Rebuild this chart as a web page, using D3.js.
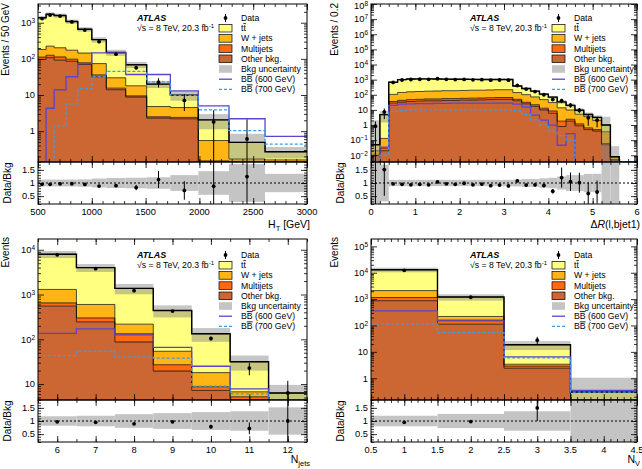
<!DOCTYPE html>
<html lang="en">
<head>
<meta charset="utf-8" />
<title>BB control distributions</title>
<script src="https://cdn.jsdelivr.net/npm/d3@7"></script>
<style>
  body { margin: 0; background: #fff; }
  svg { display: block; font-family: "Liberation Sans", Arial, sans-serif; }
</style>
</head>
<body>
<svg id="chart" width="642" height="469"></svg>
<script>
// ---------- H_T panel ----------
var htEdges = [500, 575, 650, 760, 870, 1000, 1135, 1315, 1510, 1730, 1990, 2275, 2610, 3000];
var htOther = [96, 108, 92, 86, 70, 32, 14, 8.8, 2.3, 2.2, 0.14, 0.02, 0.02];
var htMulti = [16, 18, 21, 12, 8, 4, 1.5, 0.7, 0.2, 0.2, 0.01, 0, 0];
var htWjets = [70, 99, 90, 76, 67, 38, 14.5, 8.5, 2.3, 2.1, 0.4, 0.15, 0.14];
var htTtbar = [1188, 1490, 1377, 906, 515, 266, 120, 51, 15.2, 5.4, 1.5, 0.32, 0.11];
var htData = [1300, 1630, 1530, 1050, 625, 300, 135, 57, 22.6, 7.1, 1.8, 0.61, 0];
var htErr = [6, 6, 6, 5, 4, 4, 6, 7, 6.5, 3.5, 2.0, 1.5, 0];
var htUnc = [0.13, 0.13, 0.13, 0.13, 0.14, 0.17, 0.19, 0.2, 0.22, 0.3, 0.45, 0.72, 0.35];
var htBB600 = [0, 4.3, 14, 32, 74, 147, 147, 37, 37, 13, 5, 2.2, 0.72];
var htBB700 = [0, 0, 1.4, 5.7, 15, 32, 45, 45, 23, 9.8, 3.9, 1.04, 0.44];

// ---------- dR(l,bjet1) panel ----------
var drEdges = [0, 0.2, 0.4, 0.6, 0.8, 1.0, 1.2, 1.4, 1.6, 1.8, 2.0, 2.2, 2.4, 2.6, 2.8, 3.0,
               3.2, 3.4, 3.6, 3.8, 4.0, 4.2, 4.4, 4.6, 4.8, 5.0, 5.2, 5.4, 5.6, 5.8, 6.0];
var drOther = [0.01, 0.02, 28, 33, 36, 38, 40, 40, 42, 42, 44, 45, 46, 48, 50, 50,
               40, 25, 17, 10, 6, 0.8, 1.8, 0.9, 0.5, 0.4, 0.05, 0.005, 0, 0];
var drMulti = [0, 0.01, 8, 10, 12, 12, 13, 13, 14, 14, 14, 15, 15, 16, 16, 16,
               10, 7, 5, 3, 2.5, 1.0, 0.6, 0.3, 0.15, 0.1, 0.01, 0, 0, 0];
var drWjets = [0.01, 0.1, 70, 100, 110, 115, 120, 125, 130, 130, 135, 140, 140, 145, 150, 150,
               90, 70, 50, 35, 22, 12, 7.5, 4, 3, 1.5, 0.3, 0.003, 0, 0];
var drTtbar = [0.03, 4.77, 564, 857, 942, 955, 947, 922, 894, 874, 857, 840, 829, 821, 814, 814,
               240, 158, 103, 62, 39.5, 20.2, 10.1, 4.3, 1.35, 1.2, 0.64, 0, 0, 0];
var drData = [0.83, 7.4, 650, 950, 1023, 1064, 1042, 1144, 1048, 1007, 1040, 967, 989, 927, 948, 917,
              410, 239, 163, 100, 48, 41, 21, 9.6, 3.0, 2.1, 0, 0, 0, 0];
var drErr = [0.9, 4.9, 25, 30, 32, 33, 32, 34, 32, 32, 32, 31, 31, 30, 31, 30,
             20, 15, 12, 9, 6, 13, 7, 3.6, 2.1, 1.4, 0, 0, 0, 0];
var drUnc = [40, 0.7, 0.12, 0.12, 0.12, 0.12, 0.12, 0.12, 0.12, 0.12, 0.12, 0.12, 0.12, 0.12, 0.12, 0.12,
             0.13, 0.15, 0.15, 0.18, 0.2, 0.25, 0.3, 0.3, 0.35, 0.35, 2.5, 4, 0, 0];
var drBB600 = [0, 0.035, 20, 24, 25, 26, 26, 27, 27, 28, 28, 28, 28, 28, 28, 28,
               24, 16, 4.5, 2.1, 1.0, 0.046, 0.27, 0, 0, 0, 0, 0, 0, 0];
var drBB700 = [0, 0.01, 8, 9, 10, 10, 10, 10, 10, 10, 10, 10, 10, 10, 10, 10,
               9, 5, 2.2, 1.0, 0.4, 0.2, 0.1, 0, 0, 0, 0, 0, 0, 0];

// ---------- N_jets panel ----------
var njEdges = [5.5, 6.5, 7.5, 8.5, 9.5, 10.5, 11.5, 12.5];
var njOther = [550, 245, 87, 19.5, 7.2, 4.0, 0.5];
var njMulti = [100, 55, 46, 7.5, 1.5, 1.2, 0.3];
var njWjets = [650, 300, 85, 27, 9.3, 1.5, 0.5];
var njTtbar = [6660, 3390, 1152, 386, 115, 24.9, 5.0];
var njData = [7720, 3790, 1220, 427, 104, 22.7, 6.3];
var njErr = [88, 62, 35, 21, 10, 7, 5.5];
var njUnc = [0.18, 0.2, 0.26, 0.3, 0.34, 0.37, 0.52];
var njBB600 = [135, 170, 125, 66, 25, 7.8, 0];
var njBB700 = [43, 54, 40, 38, 9, 6, 0];

// ---------- N_V panel ----------
var nvEdges = [0.5, 1.5, 2.5, 3.5, 4.5];
var nvOther = [870, 112, 2.4, 0.03];
var nvMulti = [280, 48, 0.5, 0.01];
var nvWjets = [950, 60, 0.5, 0.01];
var nvTtbar = [10900, 980, 15.2, 0.25];
var nvData = [12350, 1176, 27.9, 0];
var nvErr = [110, 34, 9.3, 0];
var nvUnc = [0.2, 0.27, 0.37, 2.5];
var nvBB600 = [360, 150, 6.5, 0.35];
var nvBB700 = [115, 54, 6, 0.3];

// colours
var cTtbar = "#ffff80", cWjets = "#ffb514", cMulti = "#ff6a0f", cOther = "#cc6633";
var cBB600 = "#5a44d0", cBB700 = "#3d9ce8";

var legendItems = [
  {type: "data", label: "Data"},
  {type: "box", color: cTtbar, label: "tt", bar: true},
  {type: "box", color: cWjets, label: "W + jets"},
  {type: "box", color: cMulti, label: "Multijets"},
  {type: "box", color: cOther, label: "Other bkg."},
  {type: "unc", label: "Bkg uncertainty"},
  {type: "line", color: cBB600, dash: null, label: "BB", bar: true, extra: " (600 GeV)"},
  {type: "line", color: cBB700, dash: "3,2", label: "BB", bar: true, extra: " (700 GeV)"}
];

var panels = [
  {qx: 0, qy: 0, x0: 38, x1: 307, top: 4, mid: 162, bot: 204, legDy: 14, titleDy: 24,
   yTitleX: 9, yTitleEnd: 3,
   edges: htEdges, other: htOther, multi: htMulti, wjets: htWjets, ttbar: htTtbar,
   data: htData, err: htErr, unc: htUnc, bb600: htBB600, bb700: htBB700,
   xDomain: [500, 3000], yDomain: [0.14, 3300],
   xTicks: [500, 1000, 1500, 2000, 2500, 3000], xMinor: d3.range(500, 3001, 100),
   xTitle: [["H", ""], ["T", "sub"], [" [GeV]", "up"]], yTitle: "Events / 50 GeV"},
  {qx: 321, qy: 0, x0: 371, x1: 637, top: 4, mid: 162, bot: 204, legDy: 14, titleDy: 24,
   yTitleX: 338, yTitleEnd: 3,
   edges: drEdges, other: drOther, multi: drMulti, wjets: drWjets, ttbar: drTtbar,
   data: drData, err: drErr, unc: drUnc, bb600: drBB600, bb700: drBB700,
   xDomain: [0, 6], yDomain: [0.0036, 1e8],
   xTicks: [0, 1, 2, 3, 4, 5, 6], xMinor: d3.range(0, 6.01, 0.2),
   xTitle: [["\u0394", ""], ["R", "it"], ["(l,bjet1)", ""]], yTitle: "Events / 0.2"},
  {qx: 0, qy: 234, x0: 38, x1: 307, top: 239, mid: 400, bot: 442, legDy: 16, titleDy: 21,
   yTitleX: 9, yTitleEnd: 237,
   edges: njEdges, other: njOther, multi: njMulti, wjets: njWjets, ttbar: njTtbar,
   data: njData, err: njErr, unc: njUnc, bb600: njBB600, bb700: njBB700,
   xDomain: [5.5, 12.5], yDomain: [4.4, 17400],
   xTicks: [6, 7, 8, 9, 10, 11, 12], xMinor: d3.range(5.5, 12.51, 0.5),
   xTitle: [["N", ""], ["jets", "sub"]], yTitle: "Events"},
  {qx: 321, qy: 234, x0: 371, x1: 637, top: 239, mid: 400, bot: 442, legDy: 16, titleDy: 21,
   yTitleX: 338, yTitleEnd: 237,
   edges: nvEdges, other: nvOther, multi: nvMulti, wjets: nvWjets, ttbar: nvTtbar,
   data: nvData, err: nvErr, unc: nvUnc, bb600: nvBB600, bb700: nvBB700,
   xDomain: [0.5, 4.5], yDomain: [0.15, 1.9e5],
   xTicks: [0.5, 1, 1.5, 2, 2.5, 3, 3.5, 4, 4.5], xMinor: d3.range(0.5, 4.51, 0.1),
   xTitle: [["N", ""], ["V", "sub"]], yTitle: "Events"}
];

var svg = d3.select("#chart");
var defs = svg.append("defs");

// step points for a histogram
function stepPts(edges, lo, hi) {
  var pts = [];
  hi.forEach(function(v, i) {
    pts.push([edges[i], lo ? lo[i] : 0, v]);
    pts.push([edges[i + 1], lo ? lo[i] : 0, v]);
  });
  return pts;
}

function supText(sel, e) {
  if (e === 0) { sel.text("1"); return; }
  if (e === 1) { sel.text("10"); return; }
  sel.text("10");
  sel.append("tspan").attr("dy", -3).attr("font-size", "6.5px")
    .text(e < 0 ? "\u2212" + (-e) : e);
}

function drawPanel(p, idx) {
  // quadrant clip so labels do not leak into the neighbour
  defs.append("clipPath").attr("id", "q" + idx).append("rect")
    .attr("x", p.qx).attr("y", p.qy).attr("width", 321).attr("height", 235);
  defs.append("clipPath").attr("id", "m" + idx).append("rect")
    .attr("x", p.x0).attr("y", p.top).attr("width", p.x1 - p.x0).attr("height", p.mid - p.top);
  defs.append("clipPath").attr("id", "r" + idx).append("rect")
    .attr("x", p.x0).attr("y", p.mid).attr("width", p.x1 - p.x0).attr("height", p.bot - p.mid);

  var g = svg.append("g").attr("clip-path", "url(#q" + idx + ")");

  // set the ranges
  var x = d3.scaleLinear().domain(p.xDomain).range([p.x0, p.x1]);
  var y = d3.scaleLog().domain(p.yDomain).range([p.mid, p.top]).clamp(true);
  var r = d3.scaleLinear().domain([0.2, 1.8]).range([p.bot, p.mid]);
  var floor = p.yDomain[0] / 10;
  function yv(v) { return y(Math.max(v, floor)); }

  // stack the backgrounds
  var rows = p.other.map(function(d, i) {
    return {other: p.other[i], multi: p.multi[i], wjets: p.wjets[i], ttbar: p.ttbar[i]};
  });
  var keys = ["other", "multi", "wjets", "ttbar"];
  var cols = {other: cOther, multi: cMulti, wjets: cWjets, ttbar: cTtbar};
  var series = d3.stack().keys(keys)(rows);
  var total = rows.map(function(d) { return d.other + d.multi + d.wjets + d.ttbar; });

  var main = g.append("g").attr("clip-path", "url(#m" + idx + ")");
  var area = d3.area()
    .x(function(d) { return x(d[0]); })
    .y0(function(d) { return yv(d[1]); })
    .y1(function(d) { return yv(d[2]); });
  var line = d3.line()
    .x(function(d) { return x(d[0]); })
    .y(function(d) { return yv(d[2]); });

  series.forEach(function(s) {
    var lo = s.map(function(d) { return d[0]; });
    var hi = s.map(function(d) { return d[1]; });
    main.append("path").attr("d", area(stepPts(p.edges, lo, hi)))
      .attr("fill", cols[s.key]).attr("stroke", "none");
  });
  series.forEach(function(s) {
    var hi = s.map(function(d) { return d[1]; });
    main.append("path").attr("d", line(stepPts(p.edges, null, hi)))
      .attr("fill", "none").attr("stroke", "#000").attr("stroke-width", 0.7);
  });

  // background uncertainty band
  total.forEach(function(t, i) {
    if (t <= 0) return;
    var lo = t * (1 - p.unc[i]), hi = t * (1 + p.unc[i]);
    main.append("rect")
      .attr("x", x(p.edges[i])).attr("width", x(p.edges[i + 1]) - x(p.edges[i]))
      .attr("y", yv(hi)).attr("height", yv(lo) - yv(hi))
      .attr("fill", "#808080").attr("fill-opacity", 0.45);
  });

  // total background line
  main.append("path").attr("d", line(stepPts(p.edges, null, total)))
    .attr("fill", "none").attr("stroke", "#000").attr("stroke-width", 1.4);

  // signal lines
  main.append("path").attr("d", line(stepPts(p.edges, null, p.bb600)))
    .attr("fill", "none").attr("stroke", cBB600).attr("stroke-width", 1.3);
  main.append("path").attr("d", line(stepPts(p.edges, null, p.bb700)))
    .attr("fill", "none").attr("stroke", cBB700).attr("stroke-width", 1.3)
    .attr("stroke-dasharray", "3,2");

  // data points
  p.data.forEach(function(v, i) {
    if (v <= 0) return;
    var cx = x((p.edges[i] + p.edges[i + 1]) / 2);
    main.append("line").attr("x1", cx).attr("x2", cx)
      .attr("y1", yv(v + p.err[i])).attr("y2", yv(v - p.err[i]))
      .attr("stroke", "#000").attr("stroke-width", 1);
    main.append("circle").attr("cx", cx).attr("cy", y(v)).attr("r", 1.9).attr("fill", "#000");
  });

  // ratio panel
  var rat = g.append("g").attr("clip-path", "url(#r" + idx + ")");
  total.forEach(function(t, i) {
    if (t <= 0) return;
    rat.append("rect")
      .attr("x", x(p.edges[i])).attr("width", x(p.edges[i + 1]) - x(p.edges[i]))
      .attr("y", r(1 + p.unc[i])).attr("height", r(1 - p.unc[i]) - r(1 + p.unc[i]))
      .attr("fill", "#c4c4c4");
  });
  rat.append("line").attr("x1", p.x0).attr("x2", p.x1).attr("y1", r(1)).attr("y2", r(1))
    .attr("stroke", "#000").attr("stroke-width", 1).attr("stroke-dasharray", "2,2");
  p.data.forEach(function(v, i) {
    if (v <= 0 || total[i] <= 0) return;
    var cx = x((p.edges[i] + p.edges[i + 1]) / 2);
    var rv = v / total[i], re = p.err[i] / total[i];
    rat.append("line").attr("x1", cx).attr("x2", cx)
      .attr("y1", r(rv + re)).attr("y2", r(rv - re))
      .attr("stroke", "#000").attr("stroke-width", 1);
    rat.append("circle").attr("cx", cx).attr("cy", r(rv)).attr("r", 1.9).attr("fill", "#000");
  });

  // frames
  g.append("rect").attr("x", p.x0).attr("y", p.top).attr("width", p.x1 - p.x0)
    .attr("height", p.mid - p.top).attr("fill", "none").attr("stroke", "#000");
  g.append("rect").attr("x", p.x0).attr("y", p.mid).attr("width", p.x1 - p.x0)
    .attr("height", p.bot - p.mid).attr("fill", "none").attr("stroke", "#000");

  // ticks (inside, on all four sides)
  function ticks(axis, tx, ty, size) {
    var a = g.append("g").attr("transform", "translate(" + tx + "," + ty + ")")
      .call(axis.tickSize(-size).tickSizeOuter(0).tickFormat(""));
    a.select(".domain").remove();
    a.selectAll("line").attr("stroke", "#000").attr("stroke-width", 0.8);
  }
  var yMaj = [], yMin = [];
  for (var e = -3; e <= 8; e++) {
    var b = Math.pow(10, e);
    if (b >= p.yDomain[0] && b <= p.yDomain[1]) yMaj.push(b);
    for (var k = 2; k < 10; k++) {
      if (k * b >= p.yDomain[0] && k * b <= p.yDomain[1]) yMin.push(k * b);
    }
  }
  var rMaj = [0.5, 1, 1.5], rMin = d3.range(0.2, 1.81, 0.1);
  [[p.mid, d3.axisBottom], [p.top, d3.axisTop], [p.bot, d3.axisBottom], [p.mid, d3.axisTop]]
    .forEach(function(s) {
      ticks(s[1](x).tickValues(p.xTicks), 0, s[0], 6);
      ticks(s[1](x).tickValues(p.xMinor), 0, s[0], 3);
    });
  [[p.x0, d3.axisLeft], [p.x1, d3.axisRight]].forEach(function(s) {
    ticks(s[1](y).tickValues(yMaj), s[0], 0, 6);
    ticks(s[1](y).tickValues(yMin), s[0], 0, 3);
    ticks(s[1](r).tickValues(rMaj), s[0], 0, 6);
    ticks(s[1](r).tickValues(rMin), s[0], 0, 3);
  });

  // tick labels
  var lab = g.append("g").attr("font-size", "9.3px").attr("fill", "#000");
  yMaj.forEach(function(v) {
    var yy = Math.max(y(v), p.top + 2);
    var t = lab.append("text").attr("x", p.x0 - 3).attr("y", yy).attr("dy", "0.35em")
      .attr("text-anchor", "end");
    supText(t, Math.round(Math.log10(v)));
  });
  rMaj.forEach(function(v) {
    lab.append("text").attr("x", p.x0 - 3).attr("y", r(v)).attr("dy", "0.35em")
      .attr("text-anchor", "end").text(v);
  });
  p.xTicks.forEach(function(v) {
    lab.append("text").attr("x", x(v)).attr("y", p.bot + 11)
      .attr("text-anchor", "middle").text(v);
  });

  // axis titles
  g.append("text").attr("transform", "translate(" + p.yTitleX + "," + p.yTitleEnd + ") rotate(-90)")
    .attr("text-anchor", "end").attr("font-size", "10px").text(p.yTitle);
  g.append("text").attr("transform", "translate(" + (p.x0 - 27) + "," + ((p.mid + p.bot) / 2) + ") rotate(-90)")
    .attr("text-anchor", "middle").attr("font-size", "10px").text("Data/Bkg");
  var xt = g.append("text").attr("x", p.x1 + 3).attr("y", p.bot + p.titleDy)
    .attr("text-anchor", "end").attr("font-size", "10.5px");
  p.xTitle.forEach(function(part) {
    var ts = xt.append("tspan").text(part[0]);
    if (part[1] === "sub") ts.attr("font-size", "7.5px").attr("dy", 2.5);
    if (part[1] === "up") ts.attr("dy", -2.5);
    if (part[1] === "it") ts.attr("font-style", "italic");
  });

  // ATLAS label
  var ax = p.x0 + 99, ay = p.top + p.legDy;
  g.append("text").attr("x", ax).attr("y", ay + 3).attr("font-size", "9px")
    .attr("font-weight", "bold").attr("font-style", "italic").text("ATLAS");
  var lum = g.append("text").attr("x", ax).attr("y", ay + 13.2).attr("font-size", "8.7px");
  lum.append("tspan").text("\u221As = 8 TeV, 20.3 fb");
  lum.append("tspan").attr("dy", -3.5).attr("font-size", "6px").text("-1");

  // legend
  var lx = p.x0 + 181;
  legendItems.forEach(function(it, i) {
    var cy = ay + i * 10.2;
    if (it.type === "data") {
      g.append("line").attr("x1", lx + 6.5).attr("x2", lx + 6.5).attr("y1", cy - 4).attr("y2", cy + 4)
        .attr("stroke", "#000");
      g.append("circle").attr("cx", lx + 6.5).attr("cy", cy).attr("r", 1.9).attr("fill", "#000");
    } else if (it.type === "box") {
      g.append("rect").attr("x", lx).attr("y", cy - 3.8).attr("width", 13).attr("height", 7.6)
        .attr("fill", it.color).attr("stroke", "#000").attr("stroke-width", 0.7);
    } else if (it.type === "unc") {
      g.append("rect").attr("x", lx).attr("y", cy - 3.8).attr("width", 13).attr("height", 7.6)
        .attr("fill", "#c4c4c4");
    } else {
      g.append("line").attr("x1", lx).attr("x2", lx + 13).attr("y1", cy).attr("y2", cy)
        .attr("stroke", it.color).attr("stroke-width", 1.3).attr("stroke-dasharray", it.dash);
    }
    var t = g.append("text").attr("x", lx + 22).attr("y", cy).attr("dy", "0.35em")
      .attr("font-size", "8.7px");
    if (it.bar) {
      // second letter carries the anti-particle bar
      t.append("tspan").text(it.label.charAt(0));
      t.append("tspan").style("text-decoration", "overline").text(it.label.charAt(1));
      if (it.extra) t.append("tspan").text(it.extra);
    } else {
      t.text(it.label);
    }
  });
}

panels.forEach(drawPanel);
</script>
</body>
</html>
